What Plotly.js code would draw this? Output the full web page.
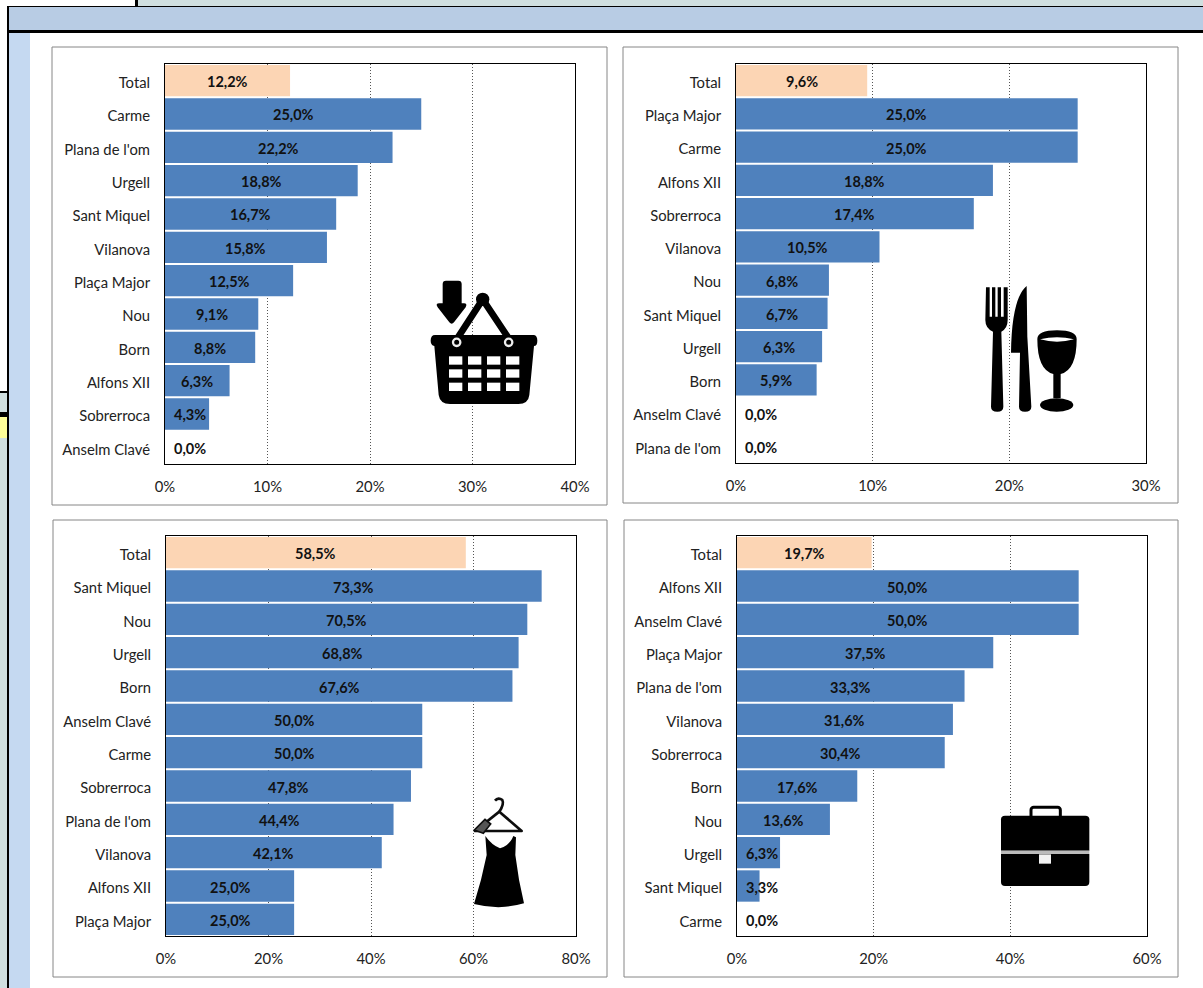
<!DOCTYPE html>
<html><head><meta charset="utf-8">
<script src="https://cdn.plot.ly/plotly-3.0.1.min.js"></script>
<style>html,body{margin:0;padding:0;background:#fff;overflow:hidden}#c{width:1203px;height:988px}</style>
</head><body><div id="c"></div>
<script>
const cats1=["Total","Carme","Plana de l'om","Urgell","Sant Miquel","Vilanova","Plaça Major","Nou","Born","Alfons XII","Sobrerroca","Anselm Clavé"];
const vals1=[12.2,25.0,22.2,18.8,16.7,15.8,12.5,9.1,8.8,6.3,4.3,0.0];
const cats2=["Total","Plaça Major","Carme","Alfons XII","Sobrerroca","Vilanova","Nou","Sant Miquel","Urgell","Born","Anselm Clavé","Plana de l'om"];
const vals2=[9.6,25.0,25.0,18.8,17.4,10.5,6.8,6.7,6.3,5.9,0.0,0.0];
const cats3=["Total","Sant Miquel","Nou","Urgell","Born","Anselm Clavé","Carme","Sobrerroca","Plana de l'om","Vilanova","Alfons XII","Plaça Major"];
const vals3=[58.5,73.3,70.5,68.8,67.6,50.0,50.0,47.8,44.4,42.1,25.0,25.0];
const cats4=["Total","Alfons XII","Anselm Clavé","Plaça Major","Plana de l'om","Vilanova","Sobrerroca","Born","Nou","Urgell","Sant Miquel","Carme"];
const vals4=[19.7,50.0,50.0,37.5,33.3,31.6,30.4,17.6,13.6,6.3,3.3,0.0];
const maxes=[40,30,80,60];
const dticks=[10,10,20,20];
const FONT='Lato, Carlito, Calibri, sans-serif';
const W=1203,H=988;
const boxes=[{l:165,r:575,t:64,b:464},{l:736,r:1146,t:64,b:463},{l:166,r:576,t:536,b:936},{l:737,r:1147,t:536,b:936}];
const frames=[[52,47,607,505],[623,47,1178,503],[53,520,607,977],[624,520,1178,977]];
const cats=[cats1,cats2,cats3,cats4], vals=[vals1,vals2,vals3,vals4];

const pr=(x0,y0,x1,y1,fill)=>({type:'rect',xref:'paper',yref:'paper',layer:'below',x0:x0/W,x1:x1/W,y0:1-y0/H,y1:1-y1/H,fillcolor:fill,line:{width:0}});
const shapes=[
 pr(138,0,1203,6,'#d0dfe0'),
 pr(9,7,1203,30,'#b8cce4'),
 pr(9,32,30,988,'#c5d9f1'),
 pr(0,393,7,412,'#d0dfe0'),
 pr(0,417,7,438,'#ffff99'),
 pr(0,438,7,988,'#d0dfe0'),
 pr(135,0,138,6,'#000'),
 pr(7,6,1203,7,'#000'),
 pr(7,30,1203,33,'#000'),
 pr(7,6,9,988,'#000'),
 pr(0,391,7,393,'#000'),
 pr(0,412,7,417,'#000')
];
frames.forEach(f=>shapes.push({type:'rect',xref:'paper',yref:'paper',layer:'below',x0:f[0]/W,x1:f[2]/W,y0:1-f[1]/H,y1:1-f[3]/H,fillcolor:'#fff',line:{color:'#868686',width:1}}));

const layout={width:W,height:H,margin:{l:0,r:0,t:0,b:0},paper_bgcolor:'#fff',plot_bgcolor:'rgba(0,0,0,0)',showlegend:false,bargap:0.06,shapes:shapes,annotations:[],images:[],font:{family:FONT,size:14.8,color:'#222'}};
const traces=[];
boxes.forEach((b,i)=>{
  const s=i===0?'':String(i+1);
  const common={showline:true,linecolor:'#000',linewidth:1,mirror:true,zeroline:false,ticks:'',tickfont:{family:FONT,size:14.8,color:'#222'}};
  layout['xaxis'+s]=Object.assign({},common,{domain:[b.l/W,b.r/W],anchor:'y'+s,range:[0,maxes[i]],dtick:dticks[i],tick0:0,ticksuffix:'%',showgrid:true,gridcolor:'#555',griddash:'1px,2px',gridwidth:1,ticklabelstandoff:9});
  layout['yaxis'+s]=Object.assign({},common,{domain:[1-b.b/H,1-b.t/H],anchor:'x'+s,type:'category',autorange:'reversed',categoryorder:'array',categoryarray:cats[i],showgrid:false,ticklabelstandoff:11,ticklabelshift:-2});
  traces.push({type:'bar',orientation:'h',xaxis:'x'+s,yaxis:'y'+s,y:cats[i],x:vals[i],hoverinfo:'skip',marker:{color:cats[i].map(c=>c==='Total'?'#fcd5b4':'#4f81bd'),line:{width:0}}});
  const pxUnit=maxes[i]/(b.r-b.l);
  vals[i].forEach((v,k)=>{
    layout.annotations.push({xref:'x'+s,yref:'y'+s,x:Math.max(v/2,25*pxUnit),y:cats[i][k],yshift:-1,text:'<b>'+v.toFixed(1).replace('.',',')+'%</b>',showarrow:false,xanchor:'center',yanchor:'middle',font:{family:FONT,size:14.5,color:'#111'}});
  });
});

const BLUR='<defs><filter id="b" x="-5%" y="-5%" width="110%" height="110%"><feGaussianBlur stdDeviation="1.6"/></filter></defs>';
const svg=(w,h,body)=>'data:image/svg+xml;charset=utf-8,'+encodeURIComponent('<svg xmlns="http://www.w3.org/2000/svg" width="'+w+'" height="'+h+'" viewBox="0 0 '+w+' '+h+'">'+BLUR+'<g filter="url(#b)">'+body+'</g></svg>');
const addImg=(x,y,w,h,body)=>layout.images.push({source:svg(w*3,h*3,body),xref:'paper',yref:'paper',x:x/W,y:1-y/H,sizex:w/W,sizey:h/H,xanchor:'left',yanchor:'top',sizing:'stretch',layer:'above'});

let win='';
[147,204,261,318].forEach(x=>[259,298,338].forEach(y=>{win+='<rect x="'+x+'" y="'+y+'" width="40" height="25" fill="#fff"/>';}));
addImg(400,270,200,230,
 '<path d="M128 42Q128 32 138 32H175Q185 32 185 42V100H192Q203 100 197 112L162 157Q155 165 148 157L113 112Q105 100 118 100H128Z" fill="#000"/>'+
 '<path d="M172 205L248 88L326 205" fill="none" stroke="#000" stroke-width="20"/><circle cx="248" cy="88" r="20" fill="#000"/>'+
 '<path d="M105 195H400Q412 195 412 212Q412 228 402 228L388 375Q385 402 355 402H150Q120 402 116 375L103 228Q92 225 92 212Q92 195 105 195Z" fill="#000"/>'+
 '<circle cx="170" cy="217" r="11" fill="#000" stroke="#eee" stroke-width="7"/><circle cx="326" cy="217" r="11" fill="#000" stroke="#eee" stroke-width="7"/>'+win);
addImg(960,270,140,160,
 '<path d="M78 52H89V140H96V52H106V140H113V52H123V140H131V52H143V150Q143 175 124 185L130 410Q130 425 112 425Q93 425 93 410L99 185Q76 175 76 150Z" fill="#000"/>'+
 '<path d="M200 48Q155 85 153 248H180L177 410Q177 425 195 425Q214 425 214 410L202 200Z" fill="#000"/>'+
 '<path d="M232 207Q232 181 291 181Q350 181 350 207Q350 300 302 312V385H280V312Q232 300 232 207Z" fill="#000"/>'+
 '<path d="M240 208Q291 196 342 208Q291 222 240 208Z" fill="#fff"/>'+
 '<ellipse cx="290" cy="405" rx="50" ry="20" fill="#000"/>');
addImg(450,780,100,150,
 '<path d="M135 62Q145 50 157 60Q163 72 148 95" fill="none" stroke="#111" stroke-width="8"/>'+
 '<path d="M148 95L75 153H215Z" fill="none" stroke="#111" stroke-width="8" stroke-linejoin="round"/>'+
 '<path d="M73 150L105 118L122 132L100 160Z" fill="#555" stroke="#111" stroke-width="5"/>'+
 '<path d="M106 168Q125 195 150 205Q180 195 190 168L198 172L196 225Q205 300 222 370Q150 392 72 372Q95 300 110 225Z" fill="#000"/>');
addImg(980,790,130,110,
 '<rect x="153" y="52" width="88" height="40" rx="8" fill="none" stroke="#000" stroke-width="9"/>'+
 '<path d="M63 88Q63 77 75 77H316Q328 77 328 88V182H63Z" fill="#000"/>'+
 '<rect x="63" y="182" width="265" height="10" fill="#bbb"/>'+
 '<path d="M63 192H328V276Q328 288 316 288H75Q63 288 63 276Z" fill="#000"/>'+
 '<rect x="177" y="193" width="36" height="28" fill="#f2f2f2"/>');

Plotly.newPlot('c',traces,layout,{displayModeBar:false,responsive:false});
</script></body></html>
